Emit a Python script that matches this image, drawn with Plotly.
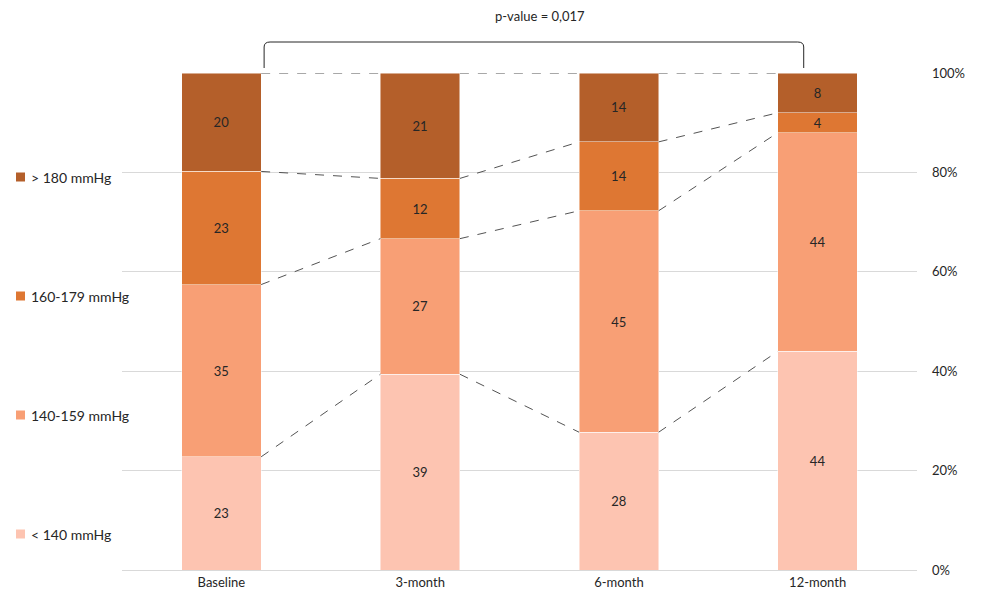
import plotly.graph_objects as go

categories = ["Baseline", "3-month", "6-month", "12-month"]
series_names = ["< 140 mmHg", "140-159 mmHg", "160-179 mmHg", "> 180 mmHg"]
lt140 = [23, 39, 28, 44]
s140_159 = [35, 27, 45, 44]
s160_179 = [23, 12, 14, 4]
gt180 = [20, 21, 14, 8]
series_values = [lt140, s140_159, s160_179, gt180]
colors = ["#FDC4B1", "#F89F75", "#DE7733", "#B45F2A"]
y_ticks = [0, 20, 40, 60, 80, 100]
p_text = "p-value = 0,017"

W, H = 981, 601
L, R, T, B = 122, 64, 73, 31
FONT = "Lato"
xpos = list(range(len(categories)))
BW = 0.4

def px2paper_x(px):
    return (px - L) / (W - L - R)

def px2paper_y(py):
    return (H - B - py) / (H - T - B)

fig = go.Figure()
for name, vals, col in zip(series_names, series_values, colors):
    fig.add_trace(go.Bar(
        x=xpos, y=vals, name=name, width=BW,
        marker=dict(color=col, line=dict(color="rgba(255,255,255,0.6)", width=0.8)),
        text=[str(v) for v in vals], textposition="inside", insidetextanchor="middle",
        textangle=0, constraintext="none",
        textfont=dict(family=FONT, size=13, color="#262626"),
        showlegend=False, hoverinfo="skip",
    ))

# dashed connector lines between boundaries
totals = [sum(s[i] for s in series_values) for i in range(len(categories))]
cum = []
for i in range(len(categories)):
    c, row = 0, []
    for s in series_values:
        c += s[i]
        row.append(100.0 * c / totals[i])
    cum.append(row)
for i in range(len(categories) - 1):
    for k in range(len(series_values)):
        fig.add_trace(go.Scatter(
            x=[xpos[i] + BW / 2, xpos[i + 1] - BW / 2],
            y=[cum[i][k], cum[i + 1][k]],
            mode="lines", line=dict(color="#404040", width=0.9, dash="dash"),
            showlegend=False, hoverinfo="skip",
        ))

# manual legend
leg_y = [534, 415, 296, 177]
for name, col, yy in zip(series_names, colors, leg_y):
    fig.add_shape(type="rect", xref="paper", yref="paper",
                  x0=px2paper_x(16), x1=px2paper_x(25),
                  y0=px2paper_y(yy + 4.5), y1=px2paper_y(yy - 4.5),
                  fillcolor=col, line=dict(width=0))
    fig.add_annotation(xref="paper", yref="paper", x=px2paper_x(29), y=px2paper_y(yy),
                       text=name, showarrow=False, xanchor="left", yanchor="middle",
                       font=dict(family=FONT, size=14, color="#262626"))

# bracket
bx0, bx1 = 0.215, 2.93
ytop = px2paper_y(42)
ybot = px2paper_y(68)
r = px2paper_y(42) - px2paper_y(47)
fig.add_shape(type="path", xref="x", yref="paper",
              path=(f"M {bx0},{ybot} L {bx0},{ytop - r} Q {bx0},{ytop} {bx0 + 0.03},{ytop} "
                    f"L {bx1 - 0.03},{ytop} Q {bx1},{ytop} {bx1},{ytop - r} L {bx1},{ybot}"),
              line=dict(color="#262626", width=1))
fig.add_annotation(xref="paper", yref="paper", x=px2paper_x(540), y=px2paper_y(16),
                   text=p_text, showarrow=False, xanchor="center", yanchor="middle",
                   font=dict(family=FONT, size=13, color="#262626"))

fig.update_layout(
    width=W, height=H, barmode="stack", barnorm="percent",
    margin=dict(l=L, r=R, t=T, b=B),
    plot_bgcolor="white", paper_bgcolor="white",
    font=dict(family=FONT, size=13, color="#262626"),
    uniformtext=dict(mode="show", minsize=10),
)
fig.update_xaxes(range=[-0.5, 3.5], tickvals=xpos, ticktext=categories,
                 showgrid=False, zeroline=False, showline=True, linecolor="#d9d9d9",
                 ticks="", tickfont=dict(family=FONT, size=13, color="#262626"))
fig.update_yaxes(range=[0, 100], side="right", tickvals=y_ticks,
                 ticktext=[f"{v}%" for v in y_ticks],
                 showgrid=True, gridcolor="#d9d9d9", gridwidth=1, zeroline=False,
                 ticks="", ticklabelstandoff=14,
                 tickfont=dict(family=FONT, size=13, color="#262626"))

fig.write_html("out.html")
